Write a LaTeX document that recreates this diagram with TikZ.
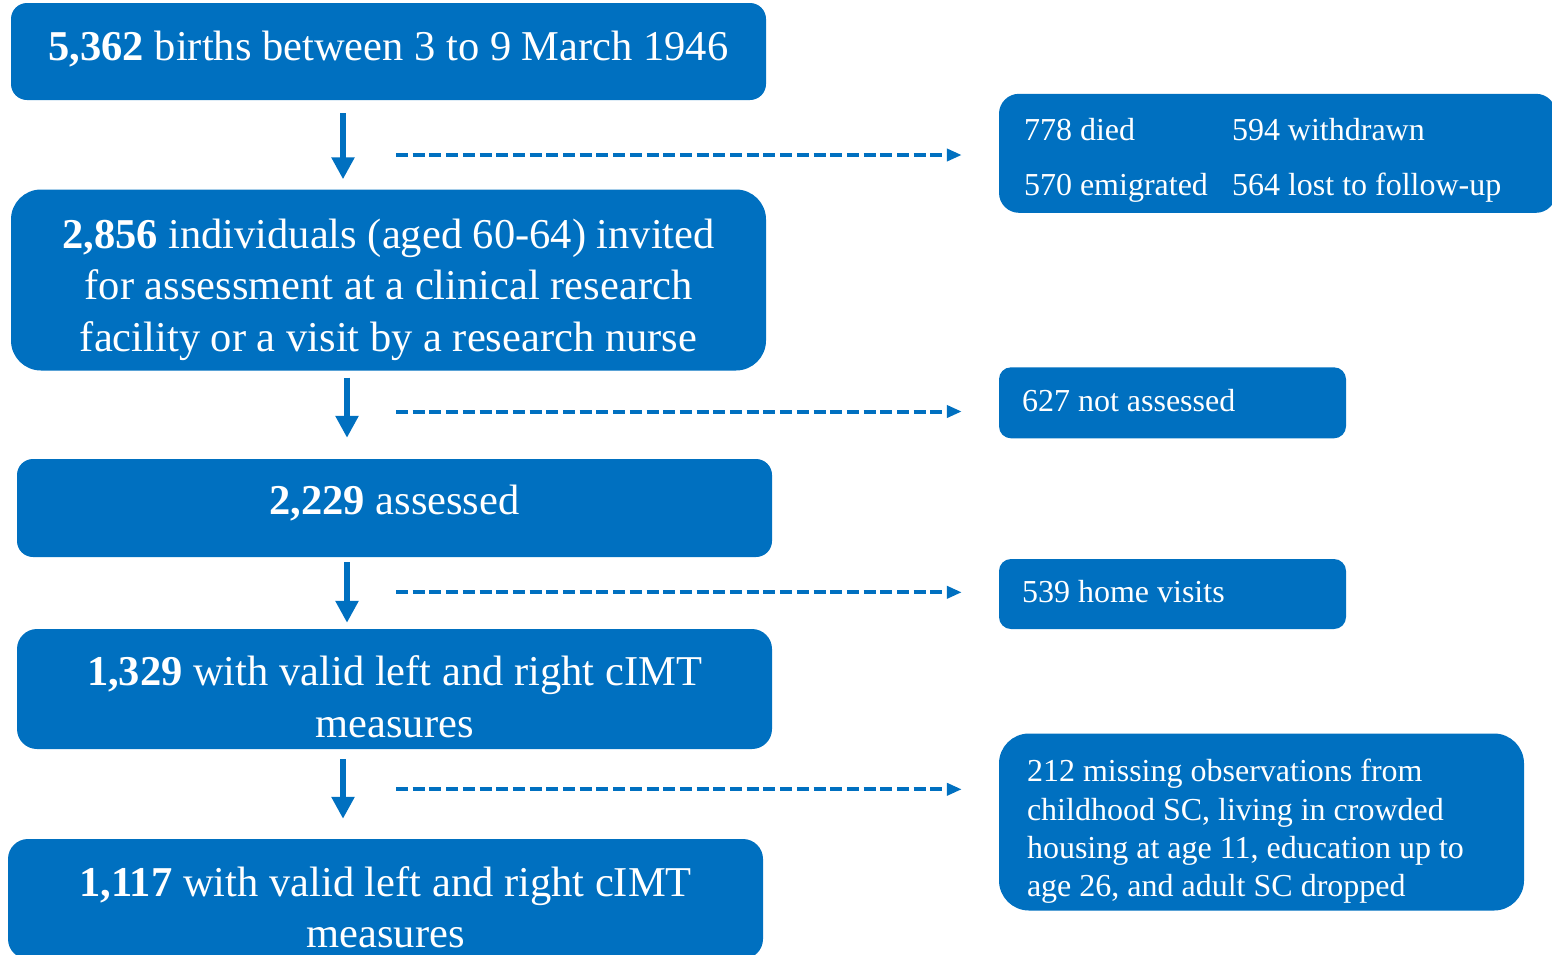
\documentclass[tikz,border=0pt]{standalone}
\usepackage{fontspec}
\setmainfont{Liberation Serif}
\usetikzlibrary{arrows.meta}
\definecolor{cohort}{RGB}{0,112,192}

\tikzset{
  flowbox/.style={fill=cohort, text=white, inner sep=0pt, align=center,
    rounded corners=#1, font=\fontsize{42.5}{51.5}\selectfont, text height=30pt,
    execute at begin node={\spaceskip=\fontdimen2\font\xspaceskip=\fontdimen2\font}},
  lossbox/.style={fill=cohort, text=white, inner ysep=0pt, align=left,
    rounded corners=#1, font=\fontsize{32}{38.3}\selectfont, text height=24pt,
    execute at begin node={\spaceskip=\fontdimen2\font\xspaceskip=\fontdimen2\font}},
  downarrow/.style={draw=cohort, line width=6pt, -{Triangle[width=22pt,length=22pt]}},
  lossarrow/.style={draw=cohort, line width=4pt, dash pattern=on 12pt off 4.7pt,
    -{Triangle[width=12pt,length=15pt]}},
}

\begin{document}
\begin{tikzpicture}[x=1pt, y=-1pt]
\useasboundingbox (0,0) rectangle (1552,954);
\clip (0,0) rectangle (1552,954);

% main flow
\node[flowbox=16pt, text width=755pt, minimum height=97pt, text depth=13pt]
  (births) at (388.5,51.5) {\textbf{5,362} births between 3 to 9 March 1946};
\node[flowbox=30pt, text width=755pt, minimum height=181pt, text depth=94pt]
  (invited) at (388.5,280) {\textbf{2,856} individuals (aged 60-64) invited\\
  for assessment at a clinical research\\ facility or a visit by a research nurse};
\node[flowbox=16pt, text width=755pt, minimum height=98pt, text depth=18pt]
  (assessed) at (394.5,508) {\textbf{2,229} assessed};
\node[flowbox=20pt, text width=755pt, minimum height=120pt, text depth=36.6pt]
  (valid) at (394.5,689) {\textbf{1,329} with valid left and right cIMT\\ measures};
\node[flowbox=20pt, text width=755pt, minimum height=120pt, text depth=36pt]
  (final) at (385.5,899) {\textbf{1,117} with valid left and right cIMT\\ measures};

% losses
\node[lossbox=20pt, inner xsep=25pt, text width=507pt, minimum height=119pt,
  text depth=50.6pt, font=\fontsize{32}{55}\selectfont] (lostA) at (1277.5,153.3)
  {\makebox[208pt][l]{778 died}594 withdrawn\\
   \makebox[208pt][l]{570 emigrated}564 lost to follow-up};
\node[lossbox=12pt, inner xsep=23pt, text width=301pt, minimum height=71pt,
  text depth=6.2pt] (lostB) at (1172.5,402.8) {627 not assessed};
\node[lossbox=12pt, inner xsep=23pt, text width=301pt, minimum height=70pt,
  text depth=6.6pt] (lostC) at (1172.5,594) {539 home visits};
\node[lossbox=30pt, inner xsep=28pt, text width=469pt, minimum height=177pt,
  text depth=104.6pt] (lostD) at (1261.5,822)
  {212 missing observations from\\ childhood SC, living in crowded\\
   housing at age 11, education up to\\ age 26, and adult SC dropped};

% arrows
\coordinate (x1) at (343,0);
\coordinate (x2) at (347,0);
\draw[downarrow, shorten <=13pt, shorten >=10pt] (x1 |- births.south) -- (x1 |- invited.north);
\draw[downarrow, shorten <=7pt, shorten >=21pt] (x2 |- invited.south) -- (x2 |- assessed.north);
\draw[downarrow, shorten <=5pt, shorten >=6pt] (x2 |- assessed.south) -- (x2 |- valid.north);
\draw[downarrow, shorten <=10pt, shorten >=20pt] (x1 |- valid.south) -- (x1 |- final.north);

\coordinate (d1) at (396,155);
\coordinate (d2) at (396,411.5);
\coordinate (d3) at (396,592.3);
\coordinate (d4) at (396,789.3);
\draw[lossarrow, shorten >=37pt] (d1) -- (d1 -| lostA.west);
\draw[lossarrow, shorten >=37pt] (d2) -- (d2 -| lostB.west);
\draw[lossarrow, shorten >=37pt] (d3) -- (d3 -| lostC.west);
\draw[lossarrow, shorten >=37pt] (d4) -- (d4 -| lostD.west);
\end{tikzpicture}
\end{document}
